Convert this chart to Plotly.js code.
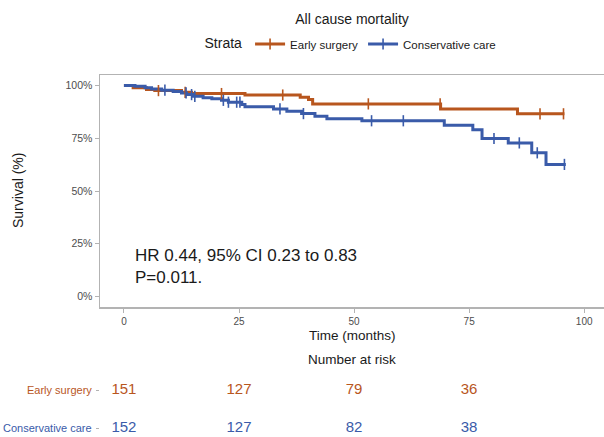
<!DOCTYPE html>
<html>
<head>
<meta charset="utf-8">
<script src="https://cdn.plot.ly/plotly-3.0.1.min.js"></script>
<style>html,body{margin:0;padding:0;background:#fff;}#chart{width:604px;height:437px;}</style>
</head>
<body>
<div id="chart"></div>
<script>
// ---- Data ----
const groupNames = ["Early surgery", "Conservative care"];

// Early surgery: step times and survival after each step
const esTime = [0, 2.0, 4.9, 6.7, 12.5, 14.7, 26.3, 38.3, 40.1, 41.0, 68.8, 85.5];
const esSurv = [1.0, 0.989, 0.981, 0.976, 0.968, 0.962, 0.955, 0.945, 0.934, 0.913, 0.889, 0.866];
const esEnd = 95.7;
const esCensor = [7.5, 13.3, 21.2, 34.5, 53.1, 68.7, 90.4, 95.5];

// Conservative care
const ccTime = [0, 2.4, 4.6, 6.0, 8.2, 10.7, 12.5, 13.6, 15.1, 17.2, 19.1, 21.2, 22.7, 25.6, 26.3, 32.5, 35.4, 38.6, 41.5, 44.1, 51.7, 69.6, 75.8, 77.8, 83.5, 88.6, 91.7];
const ccSurv = [1.0, 0.997, 0.989, 0.984, 0.978, 0.972, 0.965, 0.957, 0.949, 0.942, 0.937, 0.930, 0.921, 0.910, 0.900, 0.889, 0.878, 0.867, 0.855, 0.842, 0.833, 0.812, 0.791, 0.749, 0.728, 0.681, 0.626];
const ccEnd = 96.0;
const ccCensor = [8.9, 13.5, 14.7, 15.4, 21.6, 22.7, 24.5, 25.2, 33.9, 39.0, 53.8, 60.7, 80.4, 85.9, 89.8, 95.7];

// Number at risk
const riskTimes = [0, 25, 50, 75];
const esRisk = [151, 127, 79, 36];
const ccRisk = [152, 127, 82, 38];

const xTicks = [0, 25, 50, 75, 100];
const yTicks = [0, 0.25, 0.5, 0.75, 1];

// ---- Styling ----
const ORANGE = "#B8561E";
const BLUE = "#3A5BA9";
const FONT = "Liberation Sans, Arial, Helvetica, sans-serif";
const AXIS = "#b3b3b3";
const TICKTXT = "#4d4d4d";

function survAt(times, surv, t) {
  let s = surv[0];
  for (let i = 0; i < times.length; i++) { if (times[i] <= t) s = surv[i]; }
  return s;
}

function stepTrace(times, surv, end, color) {
  return {
    x: times.concat([end]), y: surv.concat([surv[surv.length - 1]]),
    type: "scatter", mode: "lines", line: {shape: "hv", color: color, width: 3},
    showlegend: false, hoverinfo: "skip", xaxis: "x", yaxis: "y"
  };
}
function censorTrace(times, surv, cens, color) {
  return {
    x: cens, y: cens.map(t => survAt(times, surv, t)),
    type: "scatter", mode: "markers",
    marker: {symbol: "line-ns-open", size: 8, color: color, line: {color: color, width: 1.6}},
    showlegend: false, hoverinfo: "skip", xaxis: "x", yaxis: "y"
  };
}
function legendTrace(name, color) {
  return {
    x: [null], y: [null], name: name, type: "scatter", mode: "lines+markers",
    line: {color: color, width: 3},
    marker: {symbol: "line-ns-open", size: 8, color: color, line: {color: color, width: 1.6}},
    xaxis: "x", yaxis: "y"
  };
}
function riskTrace(vals, yv, color) {
  return {
    x: riskTimes, y: riskTimes.map(() => yv), text: vals.map(String),
    type: "scatter", mode: "text", textposition: "middle center",
    textfont: {family: FONT, size: 15, color: color},
    showlegend: false, hoverinfo: "skip", xaxis: "x", yaxis: "y2"
  };
}

const data = [
  legendTrace(groupNames[0], ORANGE),
  legendTrace(groupNames[1], BLUE),
  stepTrace(esTime, esSurv, esEnd, ORANGE),
  stepTrace(ccTime, ccSurv, ccEnd, BLUE),
  censorTrace(esTime, esSurv, esCensor, ORANGE),
  censorTrace(ccTime, ccSurv, ccCensor, BLUE),
  riskTrace(esRisk, 1, ORANGE),
  riskTrace(ccRisk, 0, BLUE)
];

const H = 437, T = 75;
const PH = H - T;
const py = pix => (H - pix) / PH;          // paper y from pixel y
const px = pix => (pix - 100) / 504;       // paper x from pixel x

const layout = {
  width: 604, height: 437,
  margin: {l: 100, r: 0, t: T, b: 0, pad: 0},
  paper_bgcolor: "#fff", plot_bgcolor: "#fff",
  font: {family: FONT, color: "#1a1a1a"},
  title: {text: "All cause mortality", font: {family: FONT, size: 14, color: "#1a1a1a"},
          x: 0.5, xref: "paper", xanchor: "center", y: 1 - 19 / H, yref: "container", yanchor: "middle"},
  showlegend: true,
  legend: {orientation: "h", x: 0.5, xanchor: "center", y: py(44), yanchor: "middle",
           title: {text: "Strata", side: "left", font: {family: FONT, size: 14, color: "#1a1a1a"}},
           font: {family: FONT, size: 11.5, color: "#1a1a1a"}, bgcolor: "rgba(0,0,0,0)", itemwidth: 30},
  xaxis: {domain: [0, 1], range: [-5.2, 104.3], tickvals: xTicks, ticks: "outside", ticklen: 4,
          tickcolor: AXIS, tickwidth: 1, tickfont: {family: FONT, size: 10, color: TICKTXT},
          showline: true, linecolor: AXIS, linewidth: 1.5, mirror: true,
          showgrid: false, zeroline: false, anchor: "y", fixedrange: true},
  yaxis: {domain: [py(307), 1], range: [-0.05, 1.05], tickvals: yTicks, tickformat: ".0%",
          ticks: "outside", ticklen: 4, tickcolor: AXIS, tickwidth: 1,
          tickfont: {family: FONT, size: 10.5, color: TICKTXT},
          showline: true, linecolor: AXIS, linewidth: 1.5, showgrid: false, zeroline: false,
          anchor: "x", fixedrange: true},
  yaxis2: {domain: [0, py(350)], range: [-9 / 38, -9 / 38 + 87 / 38], tickvals: [0, 1],
           ticks: "outside", ticklen: 3, tickcolor: AXIS, showticklabels: false,
           showline: false, showgrid: false, zeroline: false, anchor: "x", fixedrange: true},
  annotations: [
    {text: "Survival (%)", textangle: -90, xref: "paper", x: px(18), xanchor: "center",
     yref: "paper", y: py(191), yanchor: "middle", showarrow: false,
     font: {family: FONT, size: 14, color: "#1a1a1a"}},
    {text: "Time (months)", xref: "paper", x: 0.5, xanchor: "center", yref: "paper", y: py(335),
     yanchor: "middle", showarrow: false, font: {family: FONT, size: 13.5, color: "#1a1a1a"}},
    {text: "Number at risk", xref: "paper", x: 0.5, xanchor: "center", yref: "paper", y: py(359),
     yanchor: "middle", showarrow: false, font: {family: FONT, size: 13.5, color: "#1a1a1a"}},
    {text: "HR 0.44, 95% CI 0.23 to 0.83<br>P=0.011.", xref: "x", x: 1.96, xanchor: "left",
     yref: "paper", y: py(266.5), yanchor: "middle", align: "left", showarrow: false,
     font: {family: FONT, size: 17, color: "#1a1a1a"}},
    {text: groupNames[0], xref: "paper", x: px(94), xanchor: "right", yref: "y2", y: 1,
     yanchor: "middle", showarrow: false, font: {family: FONT, size: 11, color: ORANGE}},
    {text: groupNames[1], xref: "paper", x: px(94), xanchor: "right", yref: "y2", y: 0,
     yanchor: "middle", showarrow: false, font: {family: FONT, size: 11, color: BLUE}}
  ]
};

Plotly.newPlot("chart", data, layout, {staticPlot: true, displayModeBar: false});
</script>
</body>
</html>
